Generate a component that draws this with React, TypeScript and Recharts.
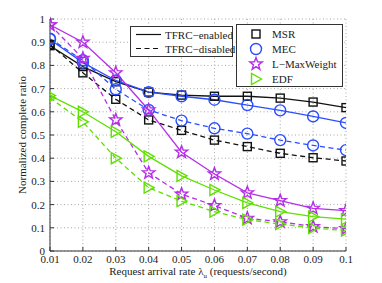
import React from "react";
import { LineChart, Line, XAxis, YAxis, CartesianGrid } from "recharts";

const RATES = [0.01, 0.02, 0.03, 0.04, 0.05, 0.06, 0.07, 0.08, 0.09, 0.1];
const X_TICKS = [0.01, 0.02, 0.03, 0.04, 0.05, 0.06, 0.07, 0.08, 0.09, 0.1];
const Y_TICKS = [0, 0.1, 0.2, 0.3, 0.4, 0.5, 0.6, 0.7, 0.8, 0.9, 1];

const MSR_ENABLED = [0.885, 0.795, 0.73, 0.685, 0.672, 0.667, 0.667, 0.659, 0.642, 0.618];
const MSR_DISABLED = [0.89, 0.768, 0.654, 0.565, 0.52, 0.478, 0.45, 0.421, 0.402, 0.388];
const MEC_ENABLED = [0.912, 0.812, 0.735, 0.685, 0.667, 0.652, 0.629, 0.606, 0.58, 0.552];
const MEC_DISABLED = [0.915, 0.822, 0.697, 0.608, 0.562, 0.529, 0.506, 0.478, 0.455, 0.435];
const LMW_ENABLED = [0.975, 0.9, 0.768, 0.608, 0.426, 0.332, 0.251, 0.217, 0.184, 0.174];
const LMW_DISABLED = [0.975, 0.83, 0.565, 0.337, 0.245, 0.196, 0.141, 0.126, 0.105, 0.096];
const EDF_ENABLED = [0.67, 0.6, 0.514, 0.408, 0.324, 0.263, 0.207, 0.17, 0.148, 0.137];
const EDF_DISABLED = [0.66, 0.557, 0.4, 0.273, 0.215, 0.17, 0.135, 0.116, 0.099, 0.088];

const SERIES_NAMES = ["MSR", "MEC", "L\u2212MaxWeight", "EDF"];
const MODE_NAMES = ["TFRC\u2212enabled", "TFRC\u2212disabled"];

const BLACK = "#111111";
const BLUE = "#2a4dff";
const PURPLE = "#b52ee8";
const GREEN = "#5fe000";

const FONT = "'Liberation Serif', 'DejaVu Serif', serif";
const TXT: React.CSSProperties = { fontFamily: FONT, fontSize: 11 };
const TM = 4; // tick margin

const data = RATES.map((r, i) => ({
  x: r,
  msrOn: MSR_ENABLED[i],
  msrOff: MSR_DISABLED[i],
  mecOn: MEC_ENABLED[i],
  mecOff: MEC_DISABLED[i],
  lmwOn: LMW_ENABLED[i],
  lmwOff: LMW_DISABLED[i],
  edfOn: EDF_ENABLED[i],
  edfOff: EDF_DISABLED[i],
}));

type Shape = "square" | "circle" | "star" | "triangle";

function Marker({ shape, cx, cy, color }: { shape: Shape; cx: number; cy: number; color: string }) {
  const sw = 1.4;
  if (shape === "square") {
    return <rect x={cx - 4} y={cy - 4} width={8} height={8} fill="none" stroke={color} strokeWidth={sw} />;
  }
  if (shape === "circle") {
    return <circle cx={cx} cy={cy} r={5.5} fill="none" stroke={color} strokeWidth={sw} />;
  }
  if (shape === "star") {
    const pts: string[] = [];
    for (let k = 0; k < 10; k++) {
      const rr = k % 2 === 0 ? 6.5 : 2.7;
      const a = -Math.PI / 2 + (k * Math.PI) / 5;
      pts.push(`${cx + rr * Math.cos(a)},${cy + rr * Math.sin(a)}`);
    }
    return <polygon points={pts.join(" ")} fill="none" stroke={color} strokeWidth={sw} />;
  }
  return (
    <polygon
      points={`${cx + 5.5},${cy} ${cx - 4.5},${cy - 5.5} ${cx - 4.5},${cy + 5.5}`}
      fill="none"
      stroke={color}
      strokeWidth={sw}
    />
  );
}

const makeDot = (shape: Shape, color: string, id: string) => (props: any) => {
  const { cx, cy, index } = props;
  if (cx == null || cy == null) return <g key={`${id}-${index}`} />;
  return (
    <g key={`${id}-${index}`}>
      <Marker shape={shape} cx={cx} cy={cy} color={color} />
    </g>
  );
};

const BottomTick = (props: any) => {
  const { x, y, payload } = props;
  return (
    <g>
      <line x1={x} x2={x} y1={y - TM} y2={y - TM - 4} stroke="#333" />
      <text x={x} y={y + 8} textAnchor="middle" style={TXT} fill="#222">
        {String(payload.value)}
      </text>
    </g>
  );
};

const TopTick = (props: any) => {
  const { x, y } = props;
  return <line x1={x} x2={x} y1={y + TM} y2={y + TM + 4} stroke="#333" />;
};

const LeftTick = (props: any) => {
  const { x, y, payload } = props;
  return (
    <g>
      <line x1={x + 5} x2={x + 9} y1={y} y2={y} stroke="#333" />
      <text x={x} y={y + 4} textAnchor="end" style={TXT} fill="#222">
        {String(payload.value)}
      </text>
    </g>
  );
};

const RightTick = (props: any) => {
  const { x, y } = props;
  return <line x1={x - TM} x2={x - TM - 4} y1={y} y2={y} stroke="#333" />;
};

const SERIES = [
  { key: "msrOn", color: BLACK, shape: "square" as Shape, dashed: false },
  { key: "msrOff", color: BLACK, shape: "square" as Shape, dashed: true },
  { key: "mecOn", color: BLUE, shape: "circle" as Shape, dashed: false },
  { key: "mecOff", color: BLUE, shape: "circle" as Shape, dashed: true },
  { key: "lmwOn", color: PURPLE, shape: "star" as Shape, dashed: false },
  { key: "lmwOff", color: PURPLE, shape: "star" as Shape, dashed: true },
  { key: "edfOn", color: GREEN, shape: "triangle" as Shape, dashed: false },
  { key: "edfOff", color: GREEN, shape: "triangle" as Shape, dashed: true },
];

const LEGEND_MARKERS: { shape: Shape; color: string }[] = [
  { shape: "square", color: BLACK },
  { shape: "circle", color: BLUE },
  { shape: "star", color: PURPLE },
  { shape: "triangle", color: GREEN },
];

export default function App() {
  return (
    <div
      style={{
        position: "absolute",
        left: 0,
        top: 0,
        width: 382,
        height: 283,
        background: "#fff",
        fontFamily: FONT,
      }}
    >
      <LineChart
        width={382}
        height={283}
        data={data}
        margin={{ top: 19, right: 36, bottom: 0, left: 10 }}
      >
        <CartesianGrid stroke="#a8a8a8" strokeDasharray="1 2.5" />
        <XAxis
          dataKey="x"
          type="number"
          domain={[0.01, 0.1]}
          ticks={X_TICKS}
          allowDataOverflow
          height={32}
          tickSize={0}
          tickMargin={TM}
          tick={<BottomTick />}
          axisLine={{ stroke: "#333" }}
          interval={0}
        />
        <XAxis
          xAxisId="top"
          orientation="top"
          dataKey="x"
          type="number"
          domain={[0.01, 0.1]}
          ticks={X_TICKS}
          allowDataOverflow
          height={0}
          tickSize={0}
          tickMargin={TM}
          tick={<TopTick />}
          axisLine={{ stroke: "#333" }}
          interval={0}
        />
        <YAxis
          type="number"
          domain={[0, 1]}
          ticks={Y_TICKS}
          width={40}
          tickSize={0}
          tickMargin={5}
          tick={<LeftTick />}
          axisLine={{ stroke: "#333" }}
          interval={0}
        />
        <YAxis
          yAxisId="right"
          orientation="right"
          type="number"
          domain={[0, 1]}
          ticks={Y_TICKS}
          width={0}
          tickSize={0}
          tickMargin={TM}
          tick={<RightTick />}
          axisLine={{ stroke: "#333" }}
          interval={0}
        />
        {SERIES.map((s) => (
          <Line
            key={s.key}
            dataKey={s.key}
            type="linear"
            stroke={s.color}
            strokeWidth={1.3}
            strokeDasharray={s.dashed ? "5 3.5" : undefined}
            dot={makeDot(s.shape, s.color, s.key)}
            activeDot={false}
            isAnimationActive={false}
          />
        ))}
      </LineChart>
      <svg
        width={382}
        height={283}
        style={{ position: "absolute", left: 0, top: 0, pointerEvents: "none" }}
      >
        {/* Left legend: line styles */}
        <rect x={130.5} y={26.5} width={102} height={30} fill="#fff" stroke="#333" strokeWidth={1} />
        <line x1={136} x2={161} y1={34.5} y2={34.5} stroke={BLACK} strokeWidth={1.2} />
        <line x1={136} x2={161} y1={48.5} y2={48.5} stroke={BLACK} strokeWidth={1.2} strokeDasharray="5 3.5" />
        {MODE_NAMES.map((m, i) => (
          <text key={m} x={165} y={38.5 + i * 14} style={TXT} fill="#222">
            {m}
          </text>
        ))}
        {/* Right legend: markers */}
        <rect x={236.5} y={24.5} width={106} height={62} fill="#fff" stroke="#333" strokeWidth={1} />
        {LEGEND_MARKERS.map((lm, i) => (
          <g key={i}>
            <Marker shape={lm.shape} cx={256} cy={34 + i * 15} color={lm.color} />
            <text x={272} y={38 + i * 15} style={TXT} fill="#222">
              {SERIES_NAMES[i]}
            </text>
          </g>
        ))}
        {/* Axis titles */}
        <text
          x={26}
          y={135}
          transform="rotate(-90 26 135)"
          textAnchor="middle"
          style={TXT}
          fill="#222"
        >
          Normalized complete ratio
        </text>
        <text x={198} y={275} textAnchor="middle" style={TXT} fill="#222">
          Request arrival rate λ
          <tspan style={{ fontSize: 7 }} dy={3}>u</tspan>
          <tspan dy={-3}> (requests/second)</tspan>
        </text>
      </svg>
    </div>
  );
}
